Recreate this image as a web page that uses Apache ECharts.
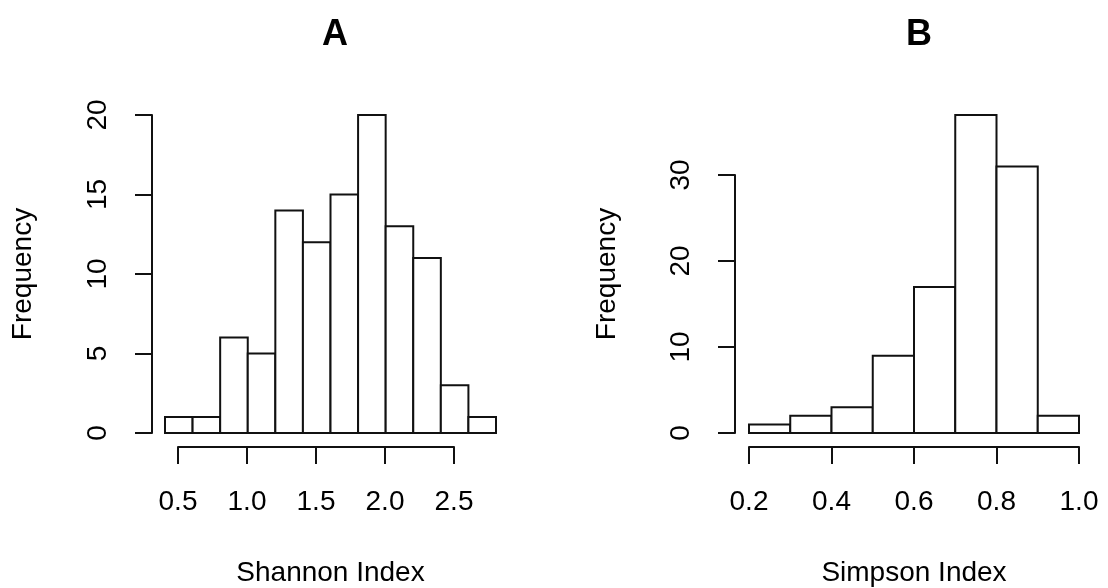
<!DOCTYPE html>
<html>
<head>
<meta charset="utf-8">
<title>Diversity index histograms</title>
<script src="https://cdn.jsdelivr.net/npm/echarts@6/dist/echarts.min.js"></script>
<style>
  html, body { margin: 0; padding: 0; background: #fff; }
  #chart { width: 1108px; height: 588px; }
</style>
</head>
<body>
<div id="chart"></div>
<script>
// Histogram bin edges and counts
const shannonBreaks = [0.4, 0.6, 0.8, 1.0, 1.2, 1.4, 1.6, 1.8, 2.0, 2.2, 2.4, 2.6, 2.8];
const shannonCounts = [1, 1, 6, 5, 14, 12, 15, 20, 13, 11, 3, 1];
const simpsonBreaks = [0.2, 0.3, 0.4, 0.5, 0.6, 0.7, 0.8, 0.9, 1.0];
const simpsonCounts = [1, 2, 3, 9, 17, 37, 31, 2];

// Axis tick values
const shannonXTicks = [0.5, 1.0, 1.5, 2.0, 2.5];
const shannonYTicks = [0, 5, 10, 15, 20];
const simpsonXTicks = [0.2, 0.4, 0.6, 0.8, 1.0];
const simpsonYTicks = [0, 10, 20, 30];

const panelTitles = ['A', 'B'];
const xTitles = ['Shannon Index', 'Simpson Index'];
const yTitle = 'Frequency';

const FONT = "'Liberation Sans', Arial, Helvetica, sans-serif";
const INK = '#111';
const LABEL_SIZE = 28;

function binData(breaks, counts) {
  return counts.map((c, i) => [breaks[i], breaks[i + 1], c]);
}

function renderBin(params, api) {
  const p0 = api.coord([api.value(0), 0]);
  const p1 = api.coord([api.value(1), api.value(2)]);
  return {
    type: 'rect',
    shape: { x: p0[0], y: p1[1], width: p1[0] - p0[0], height: p0[1] - p1[1] },
    style: { fill: '#fff', stroke: INK, lineWidth: 2 }
  };
}

const lineStyle = { color: INK, width: 2 };
const labelStyle = { color: '#000', fontFamily: FONT, fontSize: LABEL_SIZE };

// Grid layout: each panel has a grid for the bars and a grid for the
// visible axes, which in base-R style stop at the first and last tick.
const gridBase = { containLabel: false, outerBoundsMode: 'none' };
const grids = [
  Object.assign({ left: 165, width: 331, top: 115, height: 318 }, gridBase),   // A bars
  Object.assign({ left: 178, width: 276, top: 115, height: 318 }, gridBase),   // A axes
  Object.assign({ left: 749, width: 330, top: 115, height: 318 }, gridBase),   // B bars
  Object.assign({ left: 749, width: 330, top: 175, height: 258 }, gridBase)    // B axes
];

function hiddenX(gridIndex, breaks, name) {
  return {
    type: 'value', gridIndex,
    min: breaks[0], max: breaks[breaks.length - 1],
    axisLine: { show: false, onZero: false }, axisTick: { show: false },
    axisLabel: { show: false }, splitLine: { show: false },
    name, nameLocation: 'middle', nameGap: 126,
    nameTextStyle: labelStyle
  };
}
function hiddenY(gridIndex, counts, name) {
  return {
    type: 'value', gridIndex,
    min: 0, max: Math.max(...counts),
    axisLine: { show: false, onZero: false }, axisTick: { show: false },
    axisLabel: { show: false }, splitLine: { show: false },
    name, nameLocation: 'middle', nameGap: 128,
    nameTextStyle: labelStyle
  };
}
function visibleX(gridIndex, ticks) {
  return {
    type: 'value', gridIndex, offset: 14,
    min: ticks[0], max: ticks[ticks.length - 1],
    interval: ticks[1] - ticks[0],
    axisLine: { show: true, onZero: false, lineStyle },
    axisTick: { show: true, inside: false, length: 17, lineStyle },
    axisLabel: Object.assign({ margin: 41, formatter: v => v.toFixed(1), showMinLabel: true, showMaxLabel: true }, labelStyle),
    splitLine: { show: false }
  };
}
function visibleY(gridIndex, ticks, offset) {
  return {
    type: 'value', gridIndex, offset,
    min: ticks[0], max: ticks[ticks.length - 1],
    interval: ticks[1] - ticks[0],
    axisLine: { show: true, onZero: false, lineStyle },
    axisTick: { show: true, inside: false, length: 17, lineStyle },
    axisLabel: Object.assign({ margin: 40, rotate: 90, showMinLabel: true, showMaxLabel: true }, labelStyle),
    splitLine: { show: false }
  };
}

const option = {
  animation: false,
  backgroundColor: '#fff',
  title: [
    { text: panelTitles[0], left: 330, top: 12, textAlign: 'center',
      textStyle: { fontFamily: FONT, fontSize: 36, fontWeight: 'bold', color: '#000' } },
    { text: panelTitles[1], left: 914, top: 12, textAlign: 'center',
      textStyle: { fontFamily: FONT, fontSize: 36, fontWeight: 'bold', color: '#000' } }
  ],
  grid: grids,
  xAxis: [
    hiddenX(0, shannonBreaks, xTitles[0]),
    visibleX(1, shannonXTicks),
    hiddenX(2, simpsonBreaks, xTitles[1]),
    visibleX(3, simpsonXTicks)
  ],
  yAxis: [
    hiddenY(0, shannonCounts, yTitle),
    visibleY(1, shannonYTicks, 26),
    hiddenY(2, simpsonCounts, yTitle),
    visibleY(3, simpsonYTicks, 14)
  ],
  series: [
    {
      type: 'custom', name: 'Shannon', xAxisIndex: 0, yAxisIndex: 0,
      renderItem: renderBin, encode: { x: [0, 1], y: 2 },
      data: binData(shannonBreaks, shannonCounts)
    },
    {
      type: 'custom', name: 'Simpson', xAxisIndex: 2, yAxisIndex: 2,
      renderItem: renderBin, encode: { x: [0, 1], y: 2 },
      data: binData(simpsonBreaks, simpsonCounts)
    }
  ]
};

const chart = echarts.init(document.getElementById('chart'), null, { renderer: 'canvas' });
chart.setOption(option);
</script>
</body>
</html>
